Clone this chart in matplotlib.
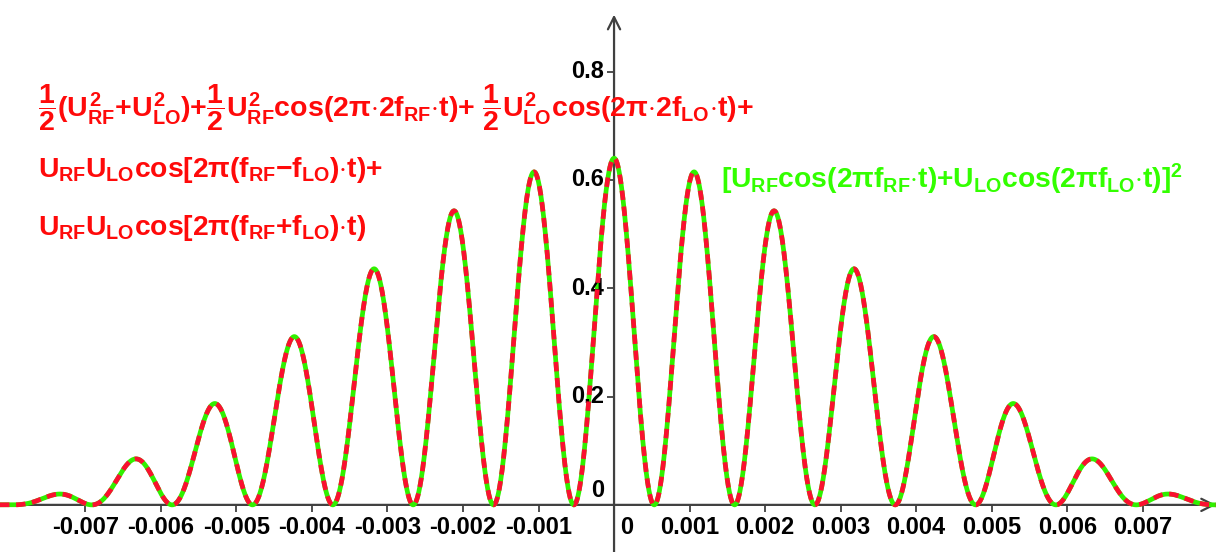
import matplotlib
matplotlib.use('Agg')
import matplotlib.pyplot as plt
import numpy as np

# Параметры сигнала (оценены по картинке)
U_RF = 0.4
U_LO = 0.4
F_RF = 500.0
F_LO = 440.0

# Подписи осей
x_ticks = [-0.007, -0.006, -0.005, -0.004, -0.003, -0.002, -0.001,
           0.001, 0.002, 0.003, 0.004, 0.005, 0.006, 0.007]
x_labels = ['-0.007', '-0.006', '-0.005', '-0.004', '-0.003', '-0.002', '-0.001',
            '0.001', '0.002', '0.003', '0.004', '0.005', '0.006', '0.007']
y_ticks = [0.2, 0.4, 0.6, 0.8]
y_labels = ['0.2', '0.4', '0.6', '0.8']

x_min, x_max = -0.00813, 0.00797
y_min, y_max = -0.087, 0.932

plt.rcParams['font.family'] = 'Liberation Sans'
plt.rcParams['mathtext.fontset'] = 'custom'
plt.rcParams['mathtext.rm'] = 'Liberation Sans:bold'
plt.rcParams['mathtext.it'] = 'Liberation Sans:bold'
plt.rcParams['mathtext.sf'] = 'Liberation Sans:bold'
plt.rcParams['mathtext.bf'] = 'Liberation Sans:bold'

fig = plt.figure(figsize=(12.16, 5.52), dpi=100)
ax = fig.add_axes([0, 0, 1, 1])
ax.set_xlim(x_min, x_max)
ax.set_ylim(y_min, y_max)
for s in ax.spines.values():
    s.set_visible(False)

axis_col = '#404040'
# оси со стрелками
ax.annotate('', xy=(x_max, 0), xytext=(x_min, 0),
            arrowprops=dict(arrowstyle='->', lw=1.6, color=axis_col,
                            mutation_scale=22, shrinkA=0, shrinkB=0))
ax.annotate('', xy=(0, 0.905), xytext=(0, y_min),
            arrowprops=dict(arrowstyle='->', lw=1.6, color=axis_col,
                            mutation_scale=22, shrinkA=0, shrinkB=0))

# кривая
t = np.linspace(x_min, x_max, 6000)
u = (U_RF * np.cos(2 * np.pi * F_RF * t) + U_LO * np.cos(2 * np.pi * F_LO * t)) ** 2
ax.plot(t, u, color='#30f000', lw=3.4, solid_capstyle='butt', zorder=3)
ax.plot(t, u, color='#fa1030', lw=3.4, ls=(0, (2.0, 1.4)), zorder=4)

# деления
tick_font = dict(fontsize=17, fontweight='bold', color='black')
ax.set_xticks([])
ax.set_yticks([])
for xv, lab in zip(x_ticks, x_labels):
    ax.plot([xv], [0], marker=3, ms=5, mew=1.3, color=axis_col, clip_on=False)
    ax.annotate(lab, xy=(xv, 0), xytext=(0, -16), textcoords='offset points',
                ha='center', va='center', **tick_font)
for yv, lab in zip(y_ticks, y_labels):
    ax.plot([0], [yv], marker=0, ms=5, mew=1.3, color=axis_col)
    ax.annotate(lab, xy=(0, yv), xytext=(-7, 0), textcoords='offset points',
                ha='right', va='center', **tick_font)
ax.annotate('0', xy=(0, 0), xytext=(-7, 2), textcoords='offset points',
            ha='right', va='bottom', **tick_font)
ax.annotate('0', xy=(0, 0), xytext=(9, -16), textcoords='offset points',
            ha='center', va='center', **tick_font)

# формулы
red = '#ff0a0a'
green = '#33ff00'
line1 = (r'$\dfrac{1}{2}(U_{RF}^{2}{+}U_{LO}^{2}){+}\dfrac{1}{2}U_{RF}^{2}cos(2\pi{\cdot}2f_{RF}{\cdot}t){+}'
         r'\ \dfrac{1}{2}U_{LO}^{2}cos(2\pi{\cdot}2f_{LO}{\cdot}t){+}$')
line2 = r'$U_{RF}U_{LO}cos[2\pi(f_{RF}{-}f_{LO}){\cdot}t){+}$'
line3 = r'$U_{RF}U_{LO}cos[2\pi(f_{RF}{+}f_{LO}){\cdot}t)$'
gtext = r'$[U_{RF}cos(2\pi f_{RF}{\cdot}t){+}U_{LO}cos(2\pi f_{LO}{\cdot}t)]^{2}$'

W, H = 1216.0, 552.0
fig.text(38 / W, 1 - 117 / H, line1, color=red, fontsize=20.5, va='baseline')
fig.text(38 / W, 1 - 177 / H, line2, color=red, fontsize=20.3, va='baseline')
fig.text(38 / W, 1 - 235 / H, line3, color=red, fontsize=20.3, va='baseline')
fig.text(721 / W, 1 - 188 / H, gtext, color=green, fontsize=20.3, va='baseline')

fig.savefig('out.png', dpi=100)
